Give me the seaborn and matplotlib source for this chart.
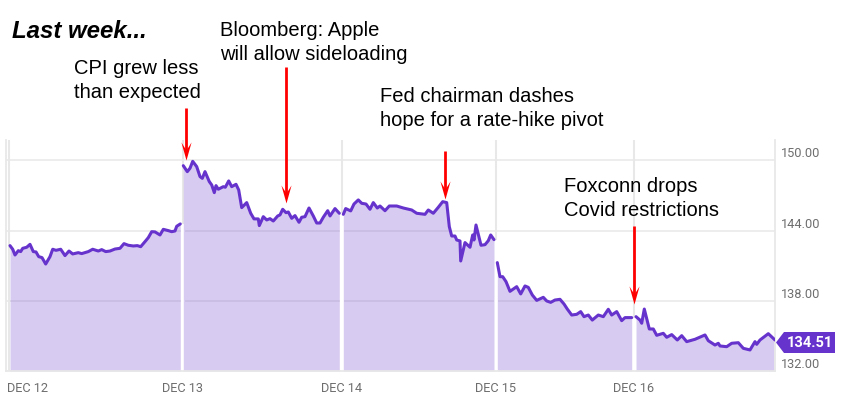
import pandas as pd
import matplotlib.pyplot as plt
from matplotlib.patches import Polygon
from matplotlib.path import Path
import seaborn as sns

# x is position along the trading axis, y is the share price
x_dec12 = [10, 12.7, 15, 18.3, 20.7, 22.7, 26.7, 30, 33.3, 36, 38.7, 42, 45.7, 50, 52.7, 56, 60.7, 65, 69, 72.7, 78.3, 81.7, 88.3, 92.7, 98.3, 101.7, 105.7, 110, 115, 120, 124, 128.3, 133.3, 137.3, 140.7, 145, 148.3, 151.7, 155, 160, 163.3, 168.3, 171.7, 175, 176.7, 180.3]
y_dec12 = [142.72, 142.41, 141.92, 142.29, 142.21, 142.49, 142.58, 142.83, 142.21, 142.18, 141.78, 141.70, 141.15, 141.78, 142.41, 142.32, 142.41, 141.87, 142.26, 142.01, 142.12, 142.04, 142.21, 142.41, 142.26, 142.38, 142.21, 142.26, 142.43, 142.49, 142.89, 142.75, 142.69, 142.72, 142.63, 143.06, 143.40, 143.91, 143.89, 143.63, 144.11, 144.00, 143.91, 143.97, 144.37, 144.57]

x_dec13 = [183.3, 187.3, 190, 192.7, 196.7, 200, 202.3, 205, 209.3, 211.7, 214.3, 216, 218.3, 223.3, 225.3, 228.7, 231.7, 236, 238.7, 241.7, 246.7, 250.7, 254, 258.3, 259.3, 263.3, 266.7, 270, 273.3, 277.7, 280, 282.7, 286, 288.3, 291.7, 295, 299, 301.7, 305, 309, 313.3, 316.7, 320, 323.3, 327.7, 330, 335, 339.3]
y_dec13 = [149.54, 149.03, 149.32, 149.91, 149.46, 148.61, 148.46, 149.03, 148.18, 147.90, 147.24, 147.84, 147.53, 147.75, 147.70, 148.24, 147.75, 147.95, 147.47, 145.96, 146.39, 145.48, 145.00, 145.00, 144.43, 145.19, 144.91, 145.02, 144.82, 145.25, 145.34, 145.82, 145.53, 145.59, 145.05, 145.28, 144.71, 145.14, 145.19, 145.93, 145.25, 144.65, 144.65, 145.14, 145.70, 145.25, 145.88, 145.48]

x_dec14 = [343.3, 345.7, 350.7, 354, 358.3, 361.7, 366, 370, 373.3, 377.3, 380, 385, 389.3, 396.7, 403.3, 411.7, 416.7, 425, 428.3, 433.3, 438.3, 442.7, 446.7, 449.3, 451.7, 455, 456.7, 460, 460.7, 465, 470, 472.7, 474, 476, 481, 485, 488.3, 490.7, 494]
y_dec14 = [145.39, 145.88, 145.68, 146.27, 146.62, 146.33, 146.27, 145.82, 146.39, 145.93, 146.10, 145.70, 146.10, 146.10, 145.93, 145.76, 145.48, 145.39, 145.76, 145.48, 145.99, 146.47, 146.39, 144.34, 143.54, 143.54, 143.20, 143.12, 141.41, 142.98, 142.58, 143.63, 143.20, 144.48, 142.75, 142.80, 143.14, 143.63, 143.23]

x_dec15 = [497.3, 500, 502.7, 506, 510, 516.7, 520.7, 525, 528.3, 532.3, 536.7, 543.3, 546.7, 550.7, 555, 560, 564, 567.3, 571.7, 576.7, 580.7, 584, 588.3, 592.3, 598.3, 603.3, 608.3, 611.7, 616.7, 621.7, 625, 631.7]
y_dec15 = [141.27, 140.07, 140.07, 139.65, 138.82, 139.22, 138.60, 139.28, 139.16, 138.51, 138.05, 138.31, 138.00, 137.88, 138.08, 138.14, 137.74, 137.31, 136.80, 136.86, 137.09, 136.66, 136.80, 136.37, 136.80, 136.66, 137.29, 136.80, 137.09, 136.32, 136.58, 136.58]

x_dec16 = [636, 640, 641.7, 644.3, 649.3, 653.3, 656.7, 663.3, 666.7, 671.7, 677.3, 681.7, 686.7, 695, 705, 708.3, 715, 718.3, 720, 726.7, 731.7, 738.3, 743.3, 750, 755, 756.7, 760, 768.3, 775]
y_dec16 = [136.66, 136.37, 136.10, 137.31, 135.61, 135.61, 135.07, 135.24, 134.90, 135.13, 134.67, 135.04, 134.53, 134.73, 135.10, 134.61, 134.24, 134.39, 134.16, 134.10, 134.39, 134.44, 133.96, 133.82, 134.53, 134.30, 134.67, 135.21, 134.67]

day_ticks = [9, 182.5, 342, 495.5, 633.5]
day_labels = ['DEC 12', 'DEC 13', 'DEC 14', 'DEC 15', 'DEC 16']
price_ticks = [132, 138, 144, 150]
price_labels = ['132.00', '138.00', '144.00', '150.00']
last_price = '134.51'

sessions = [(x_dec12, y_dec12), (x_dec13, y_dec13), (x_dec14, y_dec14), (x_dec15, y_dec15), (x_dec16, y_dec16)]
frames = []
for i, (xs, ys) in enumerate(sessions):
    frames.append(pd.DataFrame({'x': xs, 'price': ys, 'day': day_labels[i]}))
df = pd.concat(frames)

W, H = 842, 400
LINE = '#6633cc'
GRID = '#e8e8e8'
LABEL = '#6e6e6e'

sns.set_style('white')
plt.rcParams['font.family'] = ['Liberation Sans', 'DejaVu Sans']

fig = plt.figure(figsize=(W / 100, H / 100), dpi=100)
ax = fig.add_axes([6 / W, 1 - 371.3 / H, (775 - 6) / W, (371.3 - 140) / H])

for y in price_ticks:
    ax.axhline(y, color=GRID, lw=1.1, zorder=1)
for x in day_ticks:
    ax.axvline(x, color=GRID, lw=1.5, zorder=1)

# the gaps between sessions stay white below the price line
for x, (xs, ys) in zip(day_ticks[1:], sessions[:-1]):
    ax.vlines(x, 132, ys[-1], color='white', lw=3, zorder=1.5)

for xs, ys in sessions:
    ax.fill_between(xs, ys, 132, color=LINE, alpha=0.25, lw=0, zorder=2)

sns.lineplot(data=df, x='x', y='price', hue='day', palette=[LINE] * 5, estimator=None,
             sort=False, lw=2.2, legend=False, ax=ax, zorder=3)

ax.set_xlim(6, 775)
ax.set_ylim(132, 151.73)
ax.set_xlabel('')
ax.set_ylabel('')
# first day label sits left aligned, so it is placed by hand further down
ax.set_xticks(day_ticks[1:])
ax.set_xticklabels(day_labels[1:], family='Roboto', fontsize=9.2, color=LABEL)
ax.yaxis.tick_right()
ax.set_yticks(price_ticks)
ax.set_yticklabels(price_labels, family='Roboto', fontsize=9.2, color=LABEL, va='bottom')
ax.tick_params(axis='both', length=0)
ax.tick_params(axis='x', pad=8)
ax.tick_params(axis='y', pad=4.5)
ax.spines['top'].set_visible(False)
for side in ['left', 'right', 'bottom']:
    ax.spines[side].set_color(GRID)
    ax.spines[side].set_linewidth(1.3)


def fig_text(px, py, s, **kw):
    fig.text(px / W, 1 - py / H, s, color=kw.pop('color', 'black'), va='center', **kw)


fig_text(7, 388.5, day_labels[0], family='Roboto', fontsize=9.2, color=LABEL)
fig_text(12, 31, 'Last week...', fontsize=17.3, fontweight='bold', fontstyle='italic')
note_size = 14.5
fig_text(74, 69, 'CPI grew less', fontsize=note_size)
fig_text(74, 93, 'than expected', fontsize=note_size)
fig_text(220, 30, 'Bloomberg: Apple', fontsize=note_size)
fig_text(220, 55, 'will allow sideloading', fontsize=note_size)
fig_text(380, 97, 'Fed chairman dashes', fontsize=note_size)
fig_text(380, 121, 'hope for a rate-hike pivot', fontsize=note_size)
fig_text(564, 187, 'Foxconn drops', fontsize=note_size)
fig_text(564, 211, 'Covid restrictions', fontsize=note_size)

# red arrows: px x, px y of tail, px y of tip
head = Path([(0, 0), (-0.28, 1), (0, 0.55), (0.28, 1), (0, 0)],
            [Path.MOVETO, Path.LINETO, Path.LINETO, Path.LINETO, Path.CLOSEPOLY])
arrows = [(186, 108, 160), (286, 67, 203), (445, 151, 199), (633.5, 226, 304)]
for px, top, tip in arrows:
    fig.add_artist(plt.Line2D([px / W, px / W], [1 - top / H, 1 - (tip - 6) / H], color='#ff0000', lw=2,
                              solid_capstyle='butt', transform=fig.transFigure))
    fig.add_artist(plt.Line2D([px / W], [1 - tip / H], marker=head, ms=26, color='#ff0000', mew=0,
                              transform=fig.transFigure))

# last price tag
tag = [(776, 342.5), (784, 332), (835, 332), (835, 353), (784, 353)]
fig.add_artist(Polygon([(a / W, 1 - b / H) for a, b in tag], closed=True, color=LINE, lw=0,
                       transform=fig.transFigure))
fig_text(810, 343, last_price, family='Roboto', fontweight='bold', fontsize=10.5, color='white', ha='center')

fig.savefig('out.png', dpi=100)
